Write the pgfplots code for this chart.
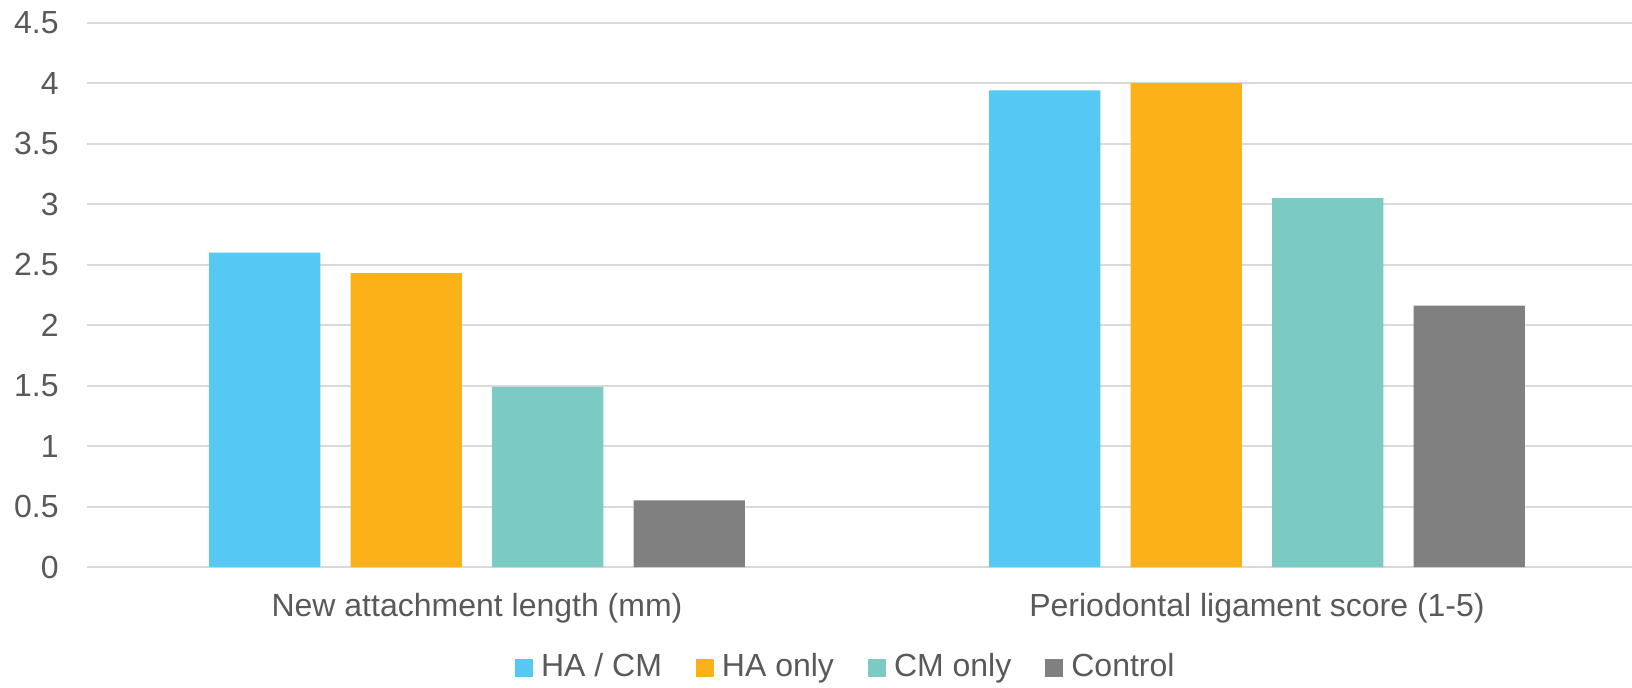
\documentclass[border=0pt]{standalone}
\usepackage{fontspec}
\setmainfont{Liberation Sans}
\usepackage{pgfplots}
\pgfplotsset{compat=1.18}

\definecolor{txtgray}{HTML}{595959}
\definecolor{gridgray}{HTML}{D9D9D9}
\definecolor{cBlue}{HTML}{56C8F4}
\definecolor{cOrange}{HTML}{FBB118}
\definecolor{cTeal}{HTML}{7BCAC3}
\definecolor{cGray}{HTML}{808080}

\newcommand{\chartfont}{\fontsize{16pt}{19pt}\selectfont}

\begin{document}
\begin{tikzpicture}
\begin{axis}[
  scale only axis,
  width=772.5pt, height=272.15pt,
  xmin=-0.5, xmax=1.4808,
  ymin=0, ymax=4.5,
  ytick={0,0.5,...,4.5},
  xtick={0,1},
  xticklabels={New attachment length (mm), Periodontal ligament score (1-5)},
  ybar=15.1pt,
  bar width=55.65pt,
  axis line style={draw=none},
  major tick length=0pt,
  ymajorgrids,
  grid style={gridgray, line width=1pt},
  /pgf/number format/assume math mode=true,
  tick label style={font=\chartfont, text=txtgray},
  yticklabel style={anchor=east, inner sep=0pt, xshift=-14pt},
  xticklabel style={anchor=base, inner sep=0pt, yshift=-24.5pt},
  legend columns=4,
  legend style={
    draw=none, fill=none,
    font=\chartfont, text=txtgray,
    at={(0.4905,-0.1835)}, anchor=center,
    column sep=4pt,
    nodes={inner sep=0pt},
    /tikz/every even column/.append style={column sep=17pt},
  },
  legend image code/.code={\fill[#1] (0pt,-5pt) rectangle (9pt,4pt);},
]
\addplot[fill=cBlue, draw=none] coordinates {(0,2.60) (1,3.94)};
\addplot[fill=cOrange, draw=none] coordinates {(0,2.43) (1,4.00)};
\addplot[fill=cTeal, draw=none] coordinates {(0,1.49) (1,3.05)};
\addplot[fill=cGray, draw=none] coordinates {(0,0.55) (1,2.16)};
\legend{HA / CM, HA only, CM only, Control}
\end{axis}
\pgfresetboundingbox
\useasboundingbox (-43.5pt,-60pt) rectangle (772.5pt,283.5pt);
\end{tikzpicture}
\end{document}
